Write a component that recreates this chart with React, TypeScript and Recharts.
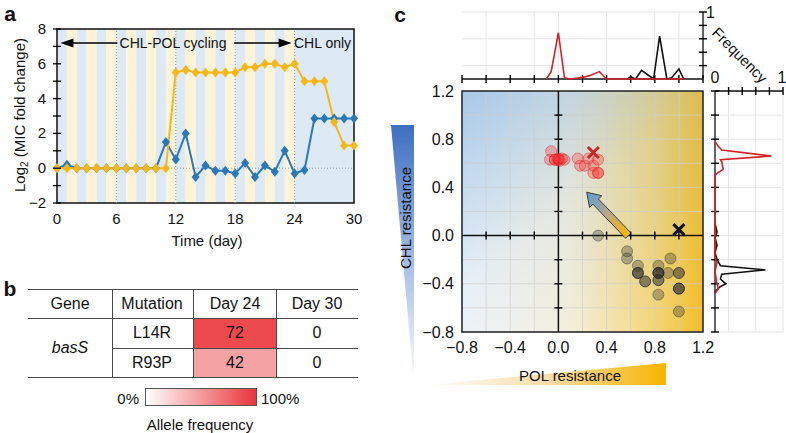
import React from 'react'
import {
  ComposedChart,
  ScatterChart,
  Line,
  Scatter,
  XAxis,
  YAxis,
  CartesianGrid,
  ReferenceArea,
  ReferenceLine,
} from 'recharts'

const FONT = "'Liberation Sans', Arial, Helvetica, sans-serif"
const MINUS = '\u2212'

// ---- panel a: log2 MIC fold change per day
const days = [0, 1, 2, 3, 4, 5, 6, 7, 8, 9, 10, 11, 12, 13, 14, 15, 16, 17, 18, 19, 20, 21, 22, 23, 24, 25, 26, 27, 28, 29, 30]
const polMic = [0, 0, 0, 0, 0, 0, 0, 0, 0, 0, 0, 0, 5.5, 5.65, 5.5, 5.5, 5.5, 5.5, 5.5, 5.8, 5.8, 6.0, 6.0, 5.8, 6.0, 5.0, 5.0, 5.0, 2.65, 1.3, 1.3]
const chlMic = [0, 0.2, 0, 0, 0, 0, 0, 0, 0, 0, 0, 1.5, 0.5, 2.0, -0.5, 0.15, -0.15, -0.15, -0.3, 0.3, -0.5, 0.15, -0.2, 1.0, -0.3, -0.1, 2.85, 2.85, 2.85, 2.85, 2.85]
const dayTicks = [0, 6, 12, 18, 24, 30]
const micTicks = [-2, -1, 0, 1, 2, 3, 4, 5, 6, 7, 8]
const cyclingDays = days.slice(0, 24)

// ---- panel b: allele frequencies
const mutations = ['L14R', 'R93P']
const day24Freq = [72, 42]
const day30Freq = [0, 0]
const day24Colors = ['#ec4a4d', '#f4a2a4']

// ---- panel c: resistance map
const resTicks = [-0.8, -0.6, -0.4, -0.2, 0, 0.2, 0.4, 0.6, 0.8, 1, 1.2]
const innerTicks = [-0.6, -0.4, -0.2, 0.2, 0.4, 0.6, 0.8, 1]
const freqTicks = [0, 0.2, 0.4, 0.6, 0.8, 1]

const redPol = [-0.06, -0.07, -0.03, -0.03, 0.0, 0.0, 0.0, 0.01, 0.03, 0.05, 0.16, 0.18, 0.22, 0.25, 0.29, 0.33, 0.29, 0.33, 0.33]
const redChl = [0.7, 0.63, 0.63, 0.63, 0.63, 0.63, 0.64, 0.62, 0.64, 0.63, 0.64, 0.58, 0.58, 0.64, 0.58, 0.63, 0.52, 0.52, 0.52]
const blackPol = [0.33, 0.57, 0.57, 0.66, 0.66, 0.66, 0.66, 0.72, 0.72, 0.83, 0.83, 0.83, 0.83, 0.83, 0.83, 0.83, 0.83, 0.93, 0.91, 1.0, 1.0, 1.0, 1.0, 1.0, 1.0]
const blackChl = [0.0, -0.13, -0.19, -0.25, -0.31, -0.31, -0.31, -0.38, -0.38, -0.25, -0.31, -0.31, -0.31, -0.31, -0.37, -0.37, -0.49, -0.19, -0.31, -0.31, -0.31, -0.44, -0.44, -0.44, -0.63]
const redAncestor = { x: 0.29, y: 0.69 }
const blackAncestor = { x: 1.0, y: 0.05 }

// marginal frequency curves
const redPolFreqX = [-0.1, -0.06, 0.0, 0.05, 0.1, 0.19, 0.26, 0.34, 0.4, 0.6, 0.8, 1.04]
const redPolFreq = [0, 0.11, 0.69, 0.02, 0, 0.02, 0.05, 0.11, 0, 0, 0, 0]
const blackPolFreqX = [0.57, 0.6, 0.64, 0.69, 0.79, 0.84, 0.9, 0.94, 1.0, 1.04]
const blackPolFreq = [0, 0.03, 0, 0.13, 0, 0.64, 0, 0.02, 0.15, 0]
const redChlFreqY = [0.78, 0.74, 0.71, 0.66, 0.63, 0.61, 0.55, 0.52, 0.5, -0.18, -0.22, -0.3, -0.4, -0.44, -0.48]
const redChlFreq = [0, 0.05, 0.1, 0.83, 0.08, 0.1, 0.12, 0.04, 0, 0, 0.03, 0, 0.03, 0.05, 0]
const blackChlFreqY = [0.1, 0.03, -0.02, -0.08, -0.14, -0.2, -0.25, -0.285, -0.32, -0.36, -0.4, -0.43, -0.47]
const blackChlFreq = [0, 0.03, 0, 0.03, 0, 0.03, 0.08, 0.74, 0.1, 0.08, 0.16, 0.06, 0]

const fmtNum = (v: number, digits = 0) => (v < 0 ? MINUS : '') + Math.abs(v).toFixed(digits)

const timeData = days.map((d, i) => ({ day: d, pol: polMic[i], chl: chlMic[i] }))
const redPts = redPol.map((x, i) => ({ x, y: redChl[i] }))
const blackPts = blackPol.map((x, i) => ({ x, y: blackChl[i] }))

const Txt = ({ x, y, size = 15, anchor = 'middle', rotate = 0, bold = false, italic = false, children }: any) => (
  <div
    style={{
      position: 'absolute',
      left: x,
      top: y,
      transform: `translate(${anchor === 'middle' ? '-50%' : anchor === 'end' ? '-100%' : '0'}, -50%) rotate(${rotate}deg)`,
      fontSize: size,
      fontWeight: bold ? 700 : 400,
      fontStyle: italic ? 'italic' : 'normal',
      whiteSpace: 'nowrap',
      lineHeight: 1,
      color: '#111',
    }}
  >
    {children}
  </div>
)

const diamond = (color: string) => (p: any) => {
  const { cx, cy, index } = p
  if (cx == null || cy == null) return <g key={index} />
  return <polygon key={index} points={`${cx},${cy - 5} ${cx + 4},${cy} ${cx},${cy + 5} ${cx - 4},${cy}`} fill={color} />
}

const MicTick = ({ x, y, payload }: any) => (
  <g>
    <line x1={x + 4} x2={x + 12} y1={y} y2={y} stroke="#000" strokeWidth={1.3} />
    {payload.value % 2 === 0 && (
      <text x={x - 3} y={y} dy={5} textAnchor="end" fontSize={15} fill="#111" fontFamily={FONT}>
        {fmtNum(payload.value)}
      </text>
    )}
  </g>
)

const HeadArrow = ({ x1, y1, x2, y2 }: any) => {
  const dir = Math.sign(x2 - x1)
  return (
    <g>
      <line x1={x1} y1={y1} x2={x2 - dir * 8} y2={y2} stroke="#000" strokeWidth={1.5} />
      <polygon points={`${x2},${y2} ${x2 - dir * 13},${y2 - 4.5} ${x2 - dir * 13},${y2 + 4.5}`} fill="#000" />
    </g>
  )
}

const ShiftArrow = ({ x1, y1, x2, y2 }: any) => {
  const dx = x2 - x1
  const dy = y2 - y1
  const len = Math.hypot(dx, dy)
  const ux = dx / len
  const uy = dy / len
  const nx = -uy
  const ny = ux
  const shaft = 3.8
  const head = 8.5
  const headLen = 13
  const bx = x2 - ux * headLen
  const by = y2 - uy * headLen
  const pts = [
    [x1 + nx * shaft, y1 + ny * shaft],
    [bx + nx * shaft, by + ny * shaft],
    [bx + nx * head, by + ny * head],
    [x2, y2],
    [bx - nx * head, by - ny * head],
    [bx - nx * shaft, by - ny * shaft],
    [x1 - nx * shaft, y1 - ny * shaft],
  ]
  return (
    <g>
      <defs>
        <linearGradient id="shiftGrad" gradientUnits="userSpaceOnUse" x1={x1} y1={y1} x2={x2} y2={y2}>
          <stop offset="0" stopColor="#f7b800" />
          <stop offset="0.5" stopColor="#b9a98a" />
          <stop offset="1" stopColor="#5d9bd9" />
        </linearGradient>
      </defs>
      <polygon points={pts.map((p) => p.join(',')).join(' ')} fill="url(#shiftGrad)" stroke="#3a3a3a" strokeWidth={1} />
    </g>
  )
}

const VTick = ({ cx, cy }: any) => <line x1={cx} x2={cx} y1={cy - 4} y2={cy + 4} stroke="#000" strokeWidth={1.4} />
const HTick = ({ cx, cy }: any) => <line x1={cx - 4} x2={cx + 4} y1={cy} y2={cy} stroke="#000" strokeWidth={1.4} />
const NoDot = () => <g />

const RedDot = ({ cx, cy }: any) => (
  <circle cx={cx} cy={cy} r={5.5} fill="#ff2d2d" fillOpacity={0.3} stroke="#e0201f" strokeOpacity={0.45} strokeWidth={1} />
)
const BlackDot = ({ cx, cy }: any) => (
  <circle cx={cx} cy={cy} r={5.5} fill="#2e2e2e" fillOpacity={0.32} stroke="#222" strokeOpacity={0.4} strokeWidth={1} />
)
const cross = (color: string) => ({ cx, cy }: any) => (
  <g stroke={color} strokeWidth={3}>
    <line x1={cx - 5.5} y1={cy - 5.5} x2={cx + 5.5} y2={cy + 5.5} />
    <line x1={cx - 5.5} y1={cy + 5.5} x2={cx + 5.5} y2={cy - 5.5} />
  </g>
)

function PanelA() {
  return (
    <div style={{ position: 'absolute', left: 0, top: 0 }}>
      <ComposedChart width={362} height={250} data={timeData} margin={{ top: 29, right: 8, bottom: 17, left: 15 }}>
        <XAxis
          dataKey="day"
          type="number"
          domain={[0, 30]}
          ticks={dayTicks}
          interval={0}
          axisLine={false}
          tickLine={false}
          tickMargin={4}
          height={30}
          tick={{ fontSize: 15, fill: '#111', fontFamily: FONT }}
        />
        <YAxis
          type="number"
          domain={[-2, 8]}
          ticks={micTicks}
          interval={0}
          width={42}
          tickSize={4}
          tickMargin={4}
          tickLine={false}
          axisLine={false}
          tick={<MicTick />}
        />
        {cyclingDays.map((d) => (
          <ReferenceArea
            key={d}
            x1={d}
            x2={d + 1}
            y1={-2}
            y2={8}
            fill={d % 2 === 0 ? '#dde9f5' : '#fdf3d8'}
            fillOpacity={1}
            stroke="none"
          />
        ))}
        <ReferenceArea x1={24} x2={30} y1={-2} y2={8} fill="#dde9f5" fillOpacity={1} stroke="none" />
        {[6, 12, 18, 24].map((d) => (
          <ReferenceLine key={d} x={d} stroke="#9a9a9a" strokeDasharray="1 2" />
        ))}
        <ReferenceLine y={0} stroke="#9a9a9a" strokeDasharray="1 2" />
        <ReferenceArea x1={0} x2={30} y1={-2} y2={8} fill="none" stroke="#111" strokeWidth={1.5} />
        <ReferenceLine segment={[{ x: 6.1, y: 7.2 }, { x: 0.35, y: 7.2 }]} shape={HeadArrow} />
        <ReferenceLine segment={[{ x: 17.9, y: 7.2 }, { x: 23.7, y: 7.2 }]} shape={HeadArrow} />
        <Line
          dataKey="chl"
          stroke="#2b78b8"
          strokeWidth={2}
          dot={diamond('#2b78b8')}
          isAnimationActive={false}
        />
        <Line
          dataKey="pol"
          stroke="#f5b71a"
          strokeWidth={2}
          dot={diamond('#f5b71a')}
          isAnimationActive={false}
        />
      </ComposedChart>
    </div>
  )
}

function PanelB() {
  const cols = [28, 112, 193, 276, 358]
  const rows = [289, 318, 348, 377]
  const line = '#4a4a4a'
  return (
    <div style={{ position: 'absolute', left: 0, top: 0 }}>
      {day24Freq.map((_, i) => (
        <div
          key={i}
          style={{
            position: 'absolute',
            left: cols[2],
            top: rows[i + 1],
            width: cols[3] - cols[2],
            height: rows[i + 2] - rows[i + 1],
            background: day24Colors[i],
          }}
        />
      ))}
      {[rows[0], rows[1], rows[3]].map((y) => (
        <div key={y} style={{ position: 'absolute', left: cols[0], top: y, width: cols[4] - cols[0], height: 1, background: line }} />
      ))}
      <div style={{ position: 'absolute', left: cols[1], top: rows[2], width: cols[4] - cols[1], height: 1, background: line }} />
      {cols.slice(1, 4).map((x) => (
        <div key={x} style={{ position: 'absolute', left: x, top: rows[0], width: 1, height: rows[3] - rows[0], background: line }} />
      ))}
      <Txt x={70} y={304} size={16}>Gene</Txt>
      <Txt x={152} y={304} size={16}>Mutation</Txt>
      <Txt x={235} y={304} size={16}>Day 24</Txt>
      <Txt x={317} y={304} size={16}>Day 30</Txt>
      <Txt x={70} y={348} size={16} italic>basS</Txt>
      {mutations.map((m, i) => (
        <React.Fragment key={m}>
          <Txt x={152} y={333 + i * 29.5} size={16}>{m}</Txt>
          <Txt x={235} y={333 + i * 29.5} size={16}>{day24Freq[i]}</Txt>
          <Txt x={317} y={333 + i * 29.5} size={16}>{day30Freq[i]}</Txt>
        </React.Fragment>
      ))}
      <div
        style={{
          position: 'absolute',
          left: 145,
          top: 388,
          width: 112,
          height: 18,
          border: '1px solid #555',
          boxSizing: 'border-box',
          background: 'linear-gradient(to right, #ffffff, #e8353a)',
        }}
      />
      <Txt x={139} y={398} size={15} anchor="end">0%</Txt>
      <Txt x={261} y={398} size={15} anchor="start">100%</Txt>
      <Txt x={200} y={424} size={15}>Allele frequency</Txt>
    </div>
  )
}

function PanelC() {
  return (
    <>
      {/* main resistance map */}
      <div style={{ position: 'absolute', left: 400, top: 80 }}>
        <ScatterChart width={320} height={290} margin={{ top: 11, right: 17, bottom: 8, left: 12 }}>
          <defs>
            <linearGradient id="polGrad" x1="0" y1="0" x2="1" y2="0">
              <stop offset="0" stopColor="#ffffff" />
              <stop offset="0.45" stopColor="#fcf3dc" />
              <stop offset="0.8" stopColor="#f5d676" />
              <stop offset="1" stopColor="#f1be2a" />
            </linearGradient>
            <linearGradient id="chlGrad" x1="0" y1="0" x2="0.8" y2="1">
              <stop offset="0" stopColor="#86b3e0" stopOpacity={0.72} />
              <stop offset="0.5" stopColor="#86b3e0" stopOpacity={0.2} />
              <stop offset="1" stopColor="#86b3e0" stopOpacity={0} />
            </linearGradient>
          </defs>
          <CartesianGrid fill="url(#polGrad)" stroke="none" />
          <CartesianGrid fill="url(#chlGrad)" stroke="#cfcfcf" strokeOpacity={0.7} />
          <XAxis
            dataKey="x"
            type="number"
            domain={[-0.8, 1.2]}
            ticks={resTicks}
            interval={0}
            axisLine={false}
            tickLine={false}
            tickMargin={4}
            height={30}
            tickFormatter={(v: number) => (Math.round(v * 10) % 4 === 0 ? fmtNum(v, 1) : '')}
            tick={{ fontSize: 16, fill: '#111', fontFamily: FONT }}
          />
          <YAxis
            dataKey="y"
            type="number"
            domain={[-0.8, 1.2]}
            ticks={resTicks}
            interval={0}
            axisLine={false}
            tickLine={false}
            width={50}
            tickFormatter={(v: number) => (Math.round(v * 10) % 4 === 0 ? fmtNum(v, 1) : '')}
            tick={{ fontSize: 16, fill: '#111', fontFamily: FONT }}
          />
          <ReferenceArea x1={-0.8} x2={1.2} y1={-0.8} y2={1.2} fill="none" stroke="#222" strokeWidth={1.5} />
          <ReferenceLine x={0} stroke="#111" strokeWidth={1.5} />
          <ReferenceLine y={0} stroke="#111" strokeWidth={1.5} />
          <ReferenceLine segment={[{ x: 0.58, y: 0.0 }, { x: 0.235, y: 0.36 }]} shape={ShiftArrow} />
          <Scatter data={innerTicks.map((x) => ({ x, y: 0 }))} shape={VTick} isAnimationActive={false} />
          <Scatter data={innerTicks.map((y) => ({ x: 0, y }))} shape={HTick} isAnimationActive={false} />
          <Scatter data={blackPts} shape={BlackDot} isAnimationActive={false} />
          <Scatter data={redPts} shape={RedDot} isAnimationActive={false} />
          <Scatter data={[redAncestor]} shape={cross('#c4262c')} isAnimationActive={false} />
          <Scatter data={[blackAncestor]} shape={cross('#111')} isAnimationActive={false} />
        </ScatterChart>
      </div>

      {/* top marginal: POL resistance distribution */}
      <div style={{ position: 'absolute', left: 400, top: 0 }}>
        <ScatterChart width={340} height={90} margin={{ top: 12, right: 7, bottom: 11, left: 62 }}>
          <CartesianGrid stroke="#e6e6e6" verticalValues={resTicks} horizontalValues={freqTicks} />
          <XAxis dataKey="x" type="number" domain={[-0.8, 1.2]} ticks={resTicks} hide />
          <YAxis
            dataKey="f"
            type="number"
            orientation="right"
            domain={[0, 1]}
            ticks={[1]}
            width={30}
            axisLine={{ stroke: '#111', strokeWidth: 1.3 }}
            tickLine={false}
            tickSize={0}
            tickMargin={3}
            tick={{ fontSize: 16, fill: '#111', fontFamily: FONT, textAnchor: 'start' }}
          />
          <ReferenceLine y={0} stroke="#111" strokeWidth={1.3} />
          <Scatter data={resTicks.map((x) => ({ x, f: 0 }))} shape={VTick} isAnimationActive={false} />
          <Scatter data={freqTicks.slice(1).map((f) => ({ x: 1.2, f }))} shape={HTick} isAnimationActive={false} />
          <Scatter
            data={blackPolFreqX.map((x, i) => ({ x, f: blackPolFreq[i] }))}
            line={{ stroke: '#111', strokeWidth: 1.6 }}
            shape={NoDot}
            isAnimationActive={false}
          />
          <Scatter
            data={redPolFreqX.map((x, i) => ({ x, f: redPolFreq[i] }))}
            line={{ stroke: '#d2232a', strokeWidth: 1.6 }}
            shape={NoDot}
            isAnimationActive={false}
          />
        </ScatterChart>
      </div>

      {/* right marginal: CHL resistance distribution */}
      <div style={{ position: 'absolute', left: 680, top: 70 }}>
        <ScatterChart width={106} height={280} margin={{ top: 0, right: 3, bottom: 18, left: 35 }}>
          <CartesianGrid stroke="#e6e6e6" verticalValues={freqTicks} horizontalValues={resTicks} />
          <XAxis
            dataKey="f"
            type="number"
            orientation="top"
            domain={[0, 1]}
            ticks={[0, 1]}
            height={21}
            axisLine={{ stroke: '#111', strokeWidth: 1.3 }}
            tickLine={false}
            tick={{ fontSize: 16, fill: '#111', fontFamily: FONT }}
          />
          <YAxis dataKey="y" type="number" domain={[-0.8, 1.2]} ticks={resTicks} hide />
          <ReferenceLine x={0} stroke="#111" strokeWidth={1.3} />
          <Scatter data={resTicks.map((y) => ({ f: 0, y }))} shape={HTick} isAnimationActive={false} />
          <Scatter data={freqTicks.slice(1).map((f) => ({ f, y: 1.2 }))} shape={VTick} isAnimationActive={false} />
          <Scatter
            data={blackChlFreqY.map((y, i) => ({ f: blackChlFreq[i], y }))}
            line={{ stroke: '#111', strokeWidth: 1.6 }}
            shape={NoDot}
            isAnimationActive={false}
          />
          <Scatter
            data={redChlFreqY.map((y, i) => ({ f: redChlFreq[i], y }))}
            line={{ stroke: '#d2232a', strokeWidth: 1.6 }}
            shape={NoDot}
            isAnimationActive={false}
          />
        </ScatterChart>
      </div>

      {/* resistance wedges */}
      <svg style={{ position: 'absolute', left: 0, top: 0 }} width={786} height={433}>
        <defs>
          <linearGradient id="chlWedge" x1="0" y1="0" x2="0" y2="1">
            <stop offset="0" stopColor="#3f6fc2" />
            <stop offset="0.55" stopColor="#a9c0e6" />
            <stop offset="1" stopColor="#ffffff" />
          </linearGradient>
          <linearGradient id="polWedge" x1="0" y1="0" x2="1" y2="0">
            <stop offset="0" stopColor="#ffffff" />
            <stop offset="0.5" stopColor="#f8dcaa" />
            <stop offset="1" stopColor="#f7b500" />
          </linearGradient>
        </defs>
        <polygon points="391,125 414,125 414,385" fill="url(#chlWedge)" />
        <polygon points="427,385 666,363 666,385" fill="url(#polWedge)" />
      </svg>
      <Txt x={405} y={218} size={15} rotate={-90}>CHL resistance</Txt>
      <Txt x={570} y={375} size={15}>POL resistance</Txt>
      <Txt x={740} y={55} size={15} rotate={45}>Frequency</Txt>
      <Txt x={400} y={14} size={21} bold>c</Txt>
    </>
  )
}

export default function App() {
  return (
    <div
      style={{
        position: 'fixed',
        left: 0,
        top: 0,
        width: 786,
        height: 433,
        background: '#fff',
        overflow: 'hidden',
        fontFamily: FONT,
        color: '#111',
      }}
    >
      <PanelA />
      <Txt x={10} y={13} size={21} bold>a</Txt>
      <Txt x={21} y={115} size={15} rotate={-90}>
        Log<sub style={{ fontSize: 10, verticalAlign: -3 }}>2</sub> (MIC fold change)
      </Txt>
      <Txt x={173} y={43} size={14}>CHL-POL cycling</Txt>
      <Txt x={294} y={43} size={14} anchor="start">CHL only</Txt>
      <Txt x={207} y={240} size={15}>Time (day)</Txt>
      <Txt x={10} y={288} size={21} bold>b</Txt>
      <PanelB />
      <PanelC />
    </div>
  )
}
